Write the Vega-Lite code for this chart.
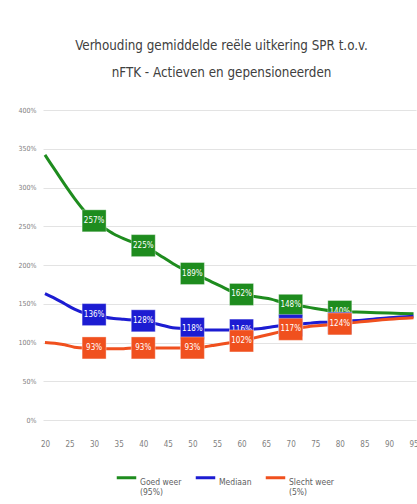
{
  "$schema": "https://vega.github.io/schema/vega-lite/v6.json",
  "width": 373,
  "height": 310,
  "autosize": {"type": "none"},
  "padding": {"left": 43, "top": 110, "right": 1, "bottom": 84},
  "background": "white",
  "config": {"view": {"stroke": null}},
  "title": {
    "text": ["Verhouding gemiddelde reële uitkering SPR t.o.v.", "nFTK - Actieven en gepensioneerden"],
    "font": "DejaVu Sans Condensed, Liberation Sans Narrow, sans-serif",
    "fontSize": 13.3,
    "fontWeight": "normal",
    "color": "#404040",
    "lineHeight": 27,
    "anchor": "middle",
    "dx": -8,
    "offset": 27
  },
  "datasets": {
    "lines": [
      {"age": 20, "s": "Goed weer", "v": 3.42}, {"age": 22, "s": "Goed weer", "v": 3.23}, {"age": 24, "s": "Goed weer", "v": 3.04}, {"age": 26, "s": "Goed weer", "v": 2.86}, {"age": 28, "s": "Goed weer", "v": 2.70}, {"age": 30, "s": "Goed weer", "v": 2.57}, {"age": 32, "s": "Goed weer", "v": 2.48}, {"age": 34, "s": "Goed weer", "v": 2.40}, {"age": 36, "s": "Goed weer", "v": 2.34}, {"age": 38, "s": "Goed weer", "v": 2.29}, {"age": 40, "s": "Goed weer", "v": 2.25}, {"age": 42, "s": "Goed weer", "v": 2.18}, {"age": 44, "s": "Goed weer", "v": 2.10}, {"age": 46, "s": "Goed weer", "v": 2.02}, {"age": 48, "s": "Goed weer", "v": 1.95}, {"age": 50, "s": "Goed weer", "v": 1.89}, {"age": 52, "s": "Goed weer", "v": 1.84}, {"age": 54, "s": "Goed weer", "v": 1.78}, {"age": 56, "s": "Goed weer", "v": 1.72}, {"age": 58, "s": "Goed weer", "v": 1.66}, {"age": 60, "s": "Goed weer", "v": 1.62}, {"age": 62, "s": "Goed weer", "v": 1.60}, {"age": 64, "s": "Goed weer", "v": 1.58}, {"age": 66, "s": "Goed weer", "v": 1.56}, {"age": 68, "s": "Goed weer", "v": 1.52}, {"age": 70, "s": "Goed weer", "v": 1.49}, {"age": 72, "s": "Goed weer", "v": 1.47}, {"age": 74, "s": "Goed weer", "v": 1.45}, {"age": 76, "s": "Goed weer", "v": 1.43}, {"age": 78, "s": "Goed weer", "v": 1.41}, {"age": 80, "s": "Goed weer", "v": 1.40}, {"age": 85, "s": "Goed weer", "v": 1.39}, {"age": 90, "s": "Goed weer", "v": 1.38}, {"age": 95, "s": "Goed weer", "v": 1.37},
      {"age": 20, "s": "Mediaan", "v": 1.63}, {"age": 22, "s": "Mediaan", "v": 1.57}, {"age": 24, "s": "Mediaan", "v": 1.50}, {"age": 26, "s": "Mediaan", "v": 1.43}, {"age": 28, "s": "Mediaan", "v": 1.38}, {"age": 30, "s": "Mediaan", "v": 1.36}, {"age": 32, "s": "Mediaan", "v": 1.33}, {"age": 34, "s": "Mediaan", "v": 1.31}, {"age": 36, "s": "Mediaan", "v": 1.30}, {"age": 38, "s": "Mediaan", "v": 1.29}, {"age": 40, "s": "Mediaan", "v": 1.28}, {"age": 42, "s": "Mediaan", "v": 1.25}, {"age": 44, "s": "Mediaan", "v": 1.22}, {"age": 46, "s": "Mediaan", "v": 1.19}, {"age": 48, "s": "Mediaan", "v": 1.18}, {"age": 50, "s": "Mediaan", "v": 1.17}, {"age": 52, "s": "Mediaan", "v": 1.16}, {"age": 54, "s": "Mediaan", "v": 1.16}, {"age": 56, "s": "Mediaan", "v": 1.16}, {"age": 58, "s": "Mediaan", "v": 1.16}, {"age": 60, "s": "Mediaan", "v": 1.16}, {"age": 62, "s": "Mediaan", "v": 1.17}, {"age": 64, "s": "Mediaan", "v": 1.18}, {"age": 66, "s": "Mediaan", "v": 1.20}, {"age": 68, "s": "Mediaan", "v": 1.22}, {"age": 70, "s": "Mediaan", "v": 1.23}, {"age": 72, "s": "Mediaan", "v": 1.24}, {"age": 74, "s": "Mediaan", "v": 1.25}, {"age": 76, "s": "Mediaan", "v": 1.26}, {"age": 78, "s": "Mediaan", "v": 1.26}, {"age": 80, "s": "Mediaan", "v": 1.27}, {"age": 85, "s": "Mediaan", "v": 1.29}, {"age": 90, "s": "Mediaan", "v": 1.32}, {"age": 95, "s": "Mediaan", "v": 1.34},
      {"age": 20, "s": "Slecht weer", "v": 1.00}, {"age": 22, "s": "Slecht weer", "v": 0.99}, {"age": 24, "s": "Slecht weer", "v": 0.97}, {"age": 26, "s": "Slecht weer", "v": 0.94}, {"age": 28, "s": "Slecht weer", "v": 0.93}, {"age": 30, "s": "Slecht weer", "v": 0.93}, {"age": 32, "s": "Slecht weer", "v": 0.92}, {"age": 34, "s": "Slecht weer", "v": 0.92}, {"age": 36, "s": "Slecht weer", "v": 0.92}, {"age": 38, "s": "Slecht weer", "v": 0.93}, {"age": 40, "s": "Slecht weer", "v": 0.93}, {"age": 42, "s": "Slecht weer", "v": 0.93}, {"age": 44, "s": "Slecht weer", "v": 0.93}, {"age": 46, "s": "Slecht weer", "v": 0.93}, {"age": 48, "s": "Slecht weer", "v": 0.93}, {"age": 50, "s": "Slecht weer", "v": 0.93}, {"age": 52, "s": "Slecht weer", "v": 0.94}, {"age": 54, "s": "Slecht weer", "v": 0.96}, {"age": 56, "s": "Slecht weer", "v": 0.98}, {"age": 58, "s": "Slecht weer", "v": 1.00}, {"age": 60, "s": "Slecht weer", "v": 1.02}, {"age": 62, "s": "Slecht weer", "v": 1.05}, {"age": 64, "s": "Slecht weer", "v": 1.08}, {"age": 66, "s": "Slecht weer", "v": 1.11}, {"age": 68, "s": "Slecht weer", "v": 1.14}, {"age": 70, "s": "Slecht weer", "v": 1.17}, {"age": 72, "s": "Slecht weer", "v": 1.19}, {"age": 74, "s": "Slecht weer", "v": 1.21}, {"age": 76, "s": "Slecht weer", "v": 1.22}, {"age": 78, "s": "Slecht weer", "v": 1.23}, {"age": 80, "s": "Slecht weer", "v": 1.24}, {"age": 85, "s": "Slecht weer", "v": 1.27}, {"age": 90, "s": "Slecht weer", "v": 1.30}, {"age": 95, "s": "Slecht weer", "v": 1.32}
    ],
    "labels": [
      {"age": 30, "s": "Goed weer", "v": 2.57}, {"age": 40, "s": "Goed weer", "v": 2.25}, {"age": 50, "s": "Goed weer", "v": 1.89}, {"age": 60, "s": "Goed weer", "v": 1.62}, {"age": 70, "s": "Goed weer", "v": 1.48}, {"age": 80, "s": "Goed weer", "v": 1.40},
      {"age": 30, "s": "Mediaan", "v": 1.36}, {"age": 40, "s": "Mediaan", "v": 1.28}, {"age": 50, "s": "Mediaan", "v": 1.18}, {"age": 60, "s": "Mediaan", "v": 1.16}, {"age": 70, "s": "Mediaan", "v": 1.22}, {"age": 80, "s": "Mediaan", "v": 1.25},
      {"age": 30, "s": "Slecht weer", "v": 0.93}, {"age": 40, "s": "Slecht weer", "v": 0.93}, {"age": 50, "s": "Slecht weer", "v": 0.93}, {"age": 60, "s": "Slecht weer", "v": 1.02}, {"age": 70, "s": "Slecht weer", "v": 1.17}, {"age": 80, "s": "Slecht weer", "v": 1.24}
    ]
  },
  "encoding": {
    "x": {
      "field": "age", "type": "quantitative",
      "scale": {"domain": [19.6, 95.5], "nice": false, "zero": false},
      "axis": {
        "title": null, "values": [20, 25, 30, 35, 40, 45, 50, 55, 60, 65, 70, 75, 80, 85, 90, 95],
        "grid": false, "domain": false, "ticks": false,
        "labelPadding": 20, "labelFontSize": 8, "labelColor": "#808080",
        "labelFont": "DejaVu Sans Condensed, Liberation Sans Narrow, sans-serif",
        "labelFlush": false, "labelOverlap": false
      }
    },
    "y": {
      "field": "v", "type": "quantitative",
      "scale": {"domain": [0, 4], "nice": false},
      "axis": {
        "title": null, "values": [0, 0.5, 1, 1.5, 2, 2.5, 3, 3.5, 4], "format": ".0%",
        "domain": false, "ticks": false, "grid": true, "gridColor": "#e3e3e3", "gridWidth": 1,
        "labelPadding": 7, "labelFontSize": 7, "labelColor": "#808080",
        "labelFont": "DejaVu Sans Condensed, Liberation Sans Narrow, sans-serif"
      }
    },
    "color": {
      "field": "s", "type": "nominal",
      "scale": {"domain": ["Goed weer", "Mediaan", "Slecht weer"], "range": ["#1e8c1e", "#1c1cd2", "#f0501e"]},
      "legend": {
        "title": null, "orient": "none", "legendX": 72, "legendY": 356, "direction": "horizontal",
        "symbolType": "stroke", "symbolStrokeWidth": 3, "symbolSize": 380,
        "labelFontSize": 8.5, "labelColor": "#606060",
        "labelFont": "DejaVu Sans Condensed, Liberation Sans Narrow, sans-serif",
        "labelOffset": 2, "columnPadding": 7, "labelBaseline": "top",
        "labelExpr": "datum.label == 'Goed weer' ? ['Goed weer', '(95%)'] : datum.label == 'Slecht weer' ? ['Slecht weer', '(5%)'] : [datum.label, ' ']"
      }
    }
  },
  "layer": [
    {
      "data": {"name": "lines"},
      "mark": {"type": "line", "strokeWidth": 3, "interpolate": "monotone"}
    },
    {
      "data": {"name": "labels"},
      "transform": [{"filter": "datum.s == 'Goed weer'"}],
      "mark": {"type": "point", "filled": true, "opacity": 1, "size": 484, "shape": "M-1.09,-1L1.09,-1L1.09,1L-1.09,1Z", "stroke": "#ffffff", "strokeOpacity": 0.35, "strokeWidth": 1}
    },
    {
      "data": {"name": "labels"},
      "transform": [{"filter": "datum.s == 'Goed weer'"}],
      "mark": {"type": "text", "fontSize": 8, "font": "DejaVu Sans Condensed, Liberation Sans Narrow, sans-serif"},
      "encoding": {"text": {"field": "v", "type": "quantitative", "format": ".0%"}, "color": {"value": "white"}}
    },
    {
      "data": {"name": "labels"},
      "transform": [{"filter": "datum.s == 'Mediaan'"}],
      "mark": {"type": "point", "filled": true, "opacity": 1, "size": 484, "shape": "M-1.09,-1L1.09,-1L1.09,1L-1.09,1Z", "stroke": "#ffffff", "strokeOpacity": 0.35, "strokeWidth": 1}
    },
    {
      "data": {"name": "labels"},
      "transform": [{"filter": "datum.s == 'Mediaan'"}],
      "mark": {"type": "text", "fontSize": 8, "font": "DejaVu Sans Condensed, Liberation Sans Narrow, sans-serif"},
      "encoding": {"text": {"field": "v", "type": "quantitative", "format": ".0%"}, "color": {"value": "white"}}
    },
    {
      "data": {"name": "labels"},
      "transform": [{"filter": "datum.s == 'Slecht weer'"}],
      "mark": {"type": "point", "filled": true, "opacity": 1, "size": 484, "shape": "M-1.09,-1L1.09,-1L1.09,1L-1.09,1Z", "stroke": "#ffffff", "strokeOpacity": 0.35, "strokeWidth": 1}
    },
    {
      "data": {"name": "labels"},
      "transform": [{"filter": "datum.s == 'Slecht weer'"}],
      "mark": {"type": "text", "fontSize": 8, "font": "DejaVu Sans Condensed, Liberation Sans Narrow, sans-serif"},
      "encoding": {"text": {"field": "v", "type": "quantitative", "format": ".0%"}, "color": {"value": "white"}}
    }
  ]
}
